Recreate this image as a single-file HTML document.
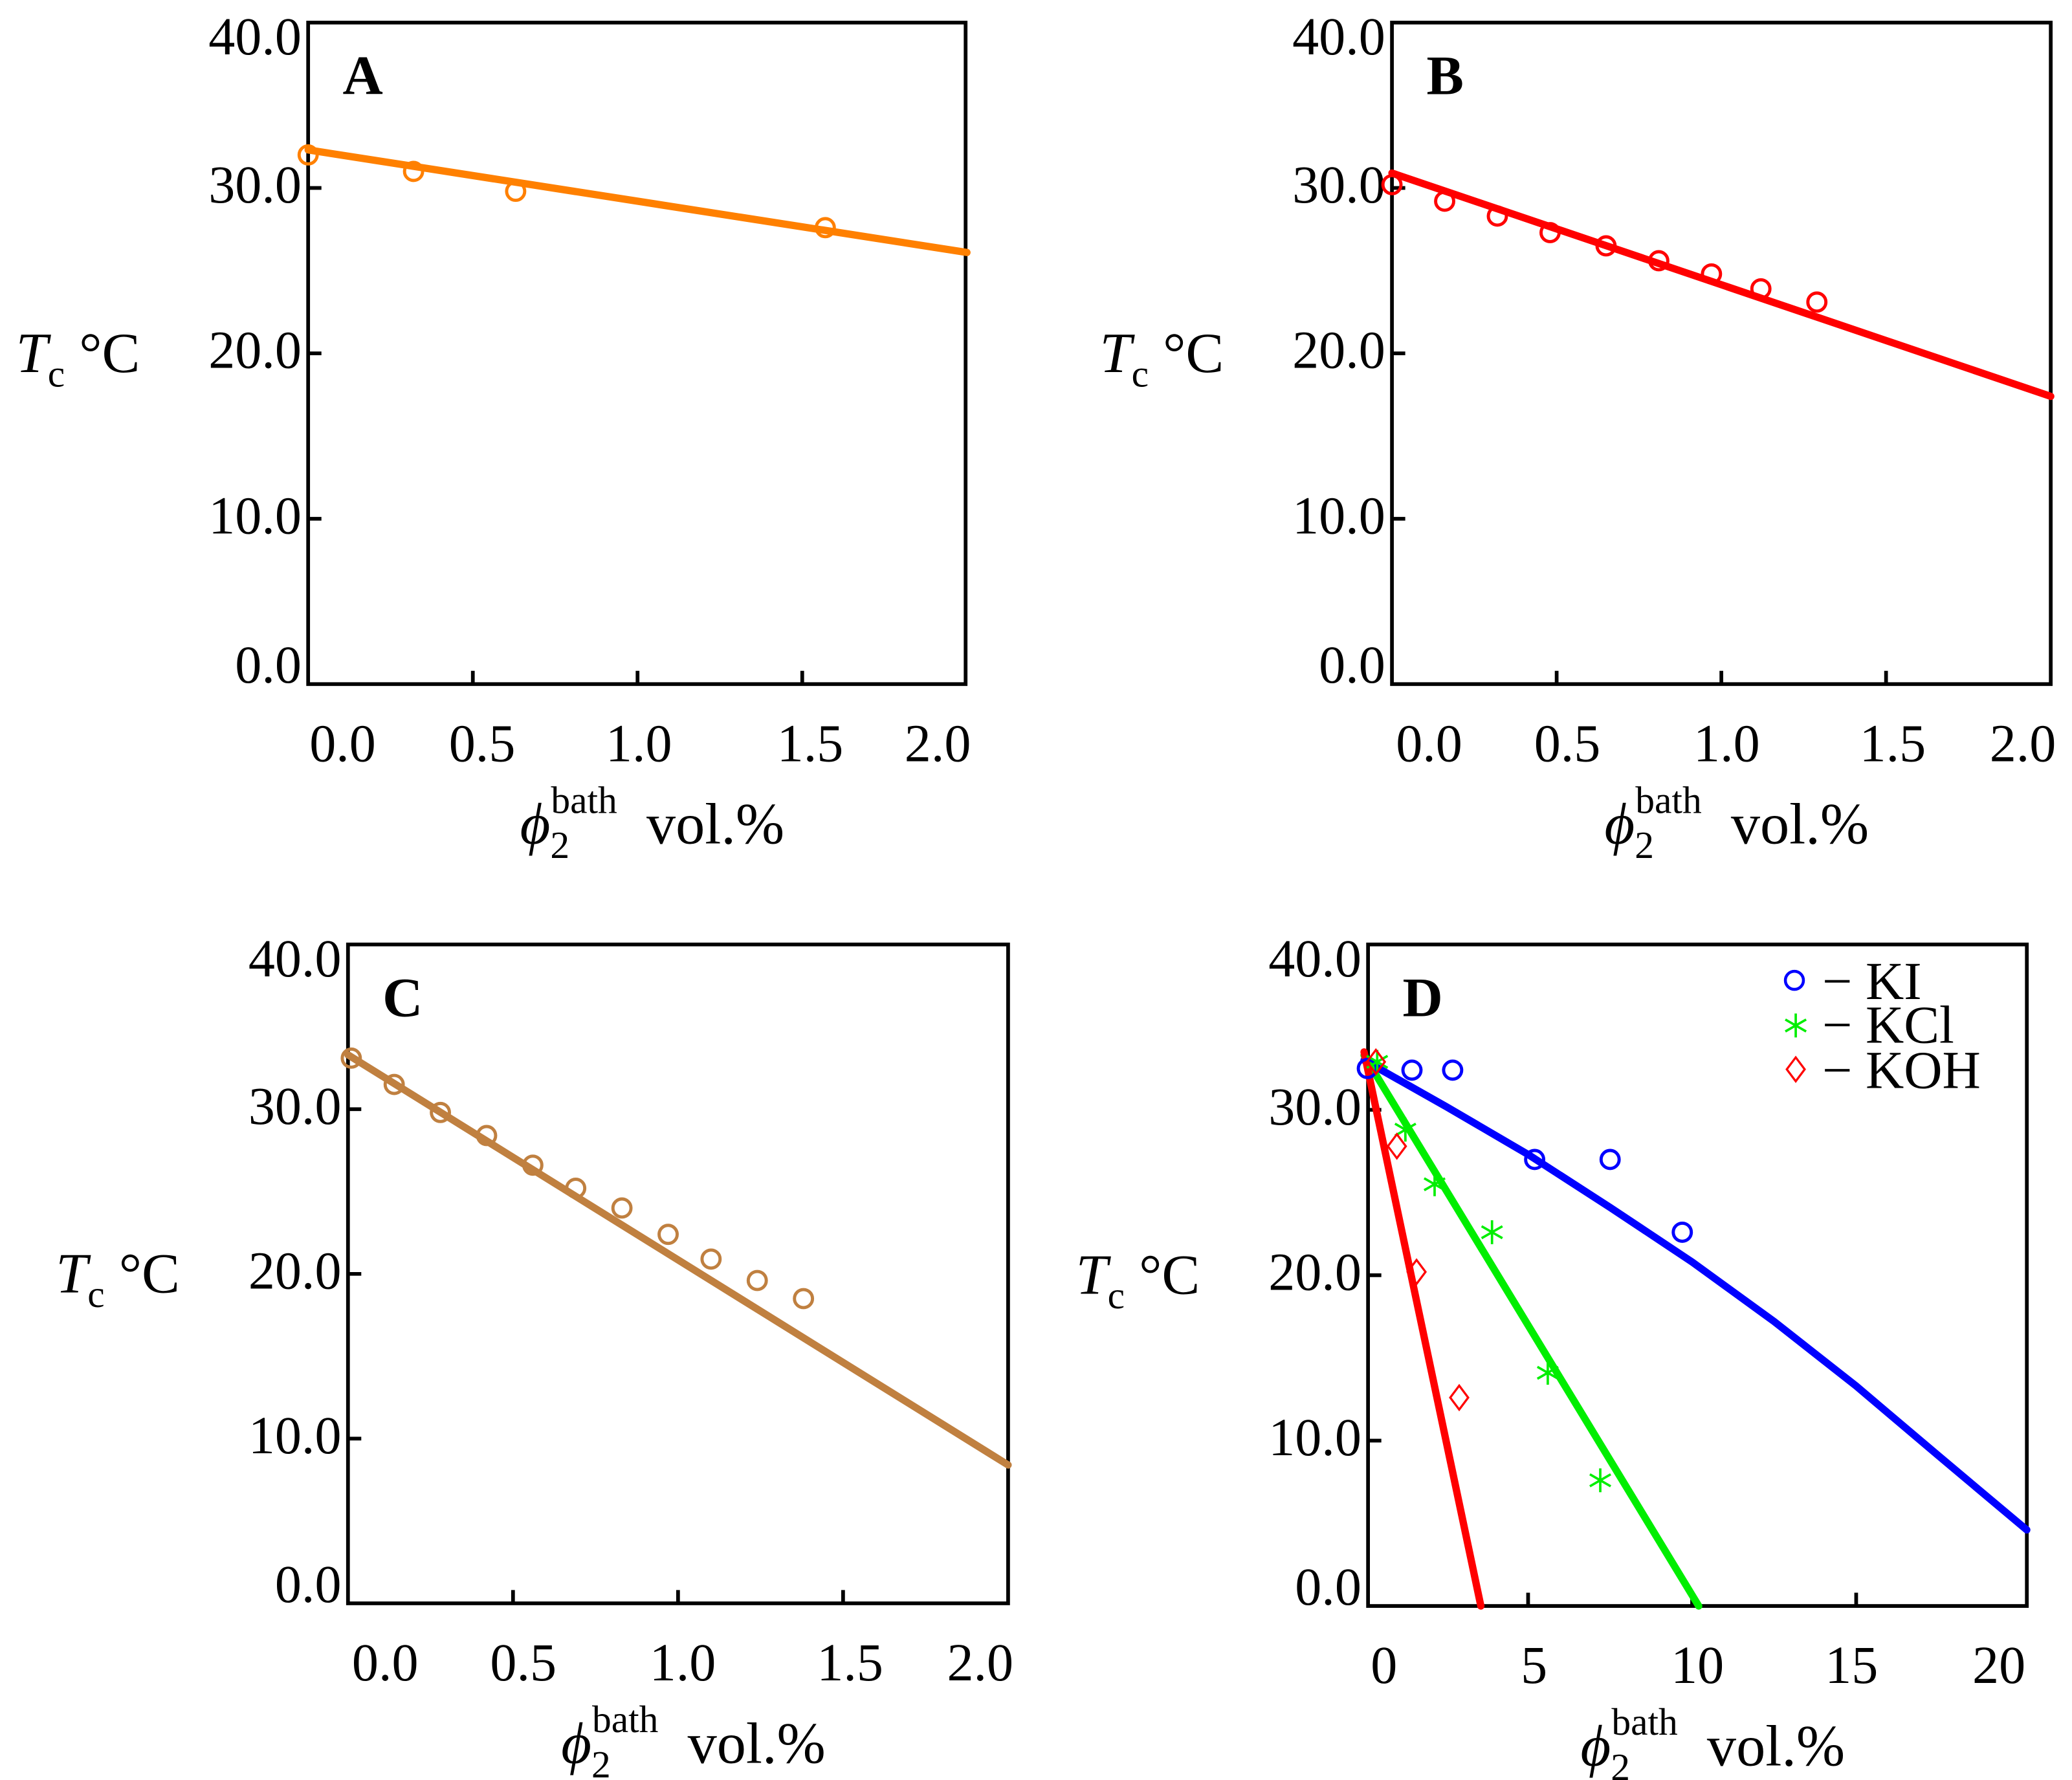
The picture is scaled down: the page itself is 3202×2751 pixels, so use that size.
<!DOCTYPE html>
<html><head><meta charset="utf-8"><style>
html,body{margin:0;padding:0;background:#fff;}
svg{display:block;}
text{font-family:"Liberation Serif","DejaVu Serif",serif;fill:#000;}
</style></head><body>
<svg id="fig" width="3202" height="2751" viewBox="0 0 1560 1340" preserveAspectRatio="none" xmlns="http://www.w3.org/2000/svg"></svg>
<script>
// Panel A data
const aX = [0, 0.32, 0.63, 1.57];
const aY = [32.0, 31.0, 29.8, 27.6];
const aFitX = [0, 2.0];
const aFitY = [32.3, 26.1];
// Panel B data
const bX = [0, 0.16, 0.32, 0.48, 0.65, 0.81, 0.97, 1.12, 1.29];
const bY = [30.2, 29.2, 28.3, 27.3, 26.5, 25.6, 24.8, 23.9, 23.1];
const bFitX = [0, 2.0];
const bFitY = [30.9, 17.4];
// Panel C data
const cX = [0.01, 0.14, 0.28, 0.42, 0.56, 0.69, 0.83, 0.97, 1.10, 1.24, 1.38];
const cY = [33.1, 31.5, 29.8, 28.4, 26.6, 25.2, 24.0, 22.4, 20.9, 19.6, 18.5];
const cFitX = [0, 2.0];
const cFitY = [33.3, 8.4];
// Panel D data
const kiX = [0.1, 1.46, 2.7, 5.2, 7.5, 9.7];
const kiY = [32.5, 32.4, 32.4, 27.0, 27.0, 22.6];
const kiFitX = [0, 2.5, 5, 7.5, 10, 12.5, 15, 17.5, 20.2];
const kiFitY = [33.0, 30.2, 27.3, 24.1, 20.8, 17.2, 13.3, 9.1, 4.6];
const kclX = [0.4, 1.26, 2.15, 3.9, 5.6, 7.2];
const kclY = [32.9, 28.8, 25.5, 22.6, 14.1, 7.6];
const kclFitX = [0, 10.2];
const kclFitY = [33.3, 0];
const kohX = [0.36, 1.0, 1.6, 2.9];
const kohY = [32.9, 27.8, 20.2, 12.6];
const kohFitX = [0, 3.56];
const kohFitY = [33.5, 0];
const yTicks = [0, 10, 20, 30, 40];
const yTickLabels = ["0.0", "10.0", "20.0", "30.0", "40.0"];
const xTicksABC = [0, 0.5, 1.0, 1.5, 2.0];
const xTickLabelsABC = ["0.0", "0.5", "1.0", "1.5", "2.0"];
const xTicksD = [0, 5, 10, 15, 20];
const xTickLabelsD = ["0", "5", "10", "15", "20"];

const NS = "http://www.w3.org/2000/svg";
const svg = document.getElementById("fig");
function mk(tag, attrs, parent) {
  const e = document.createElementNS(NS, tag);
  for (const k in attrs) e.setAttribute(k, attrs[k]);
  (parent || svg).appendChild(e);
  return e;
}
function panel(cfg) {
  const g = mk("g", {});
  
  
  const sx = v => cfg.x0 + (v - cfg.xmin) * cfg.xs;
  const sy = v => cfg.bottom - v * (cfg.bottom - cfg.top) / 40;
  cfg.sx = sx; cfg.sy = sy; cfg.g = g;
  const fr = mk("rect", {x: cfg.left, y: cfg.top, width: cfg.right - cfg.left, height: cfg.bottom - cfg.top, fill: "none", stroke: "#000", "stroke-width": 2.8}, g);
  
  
  yTicks.forEach((t, i) => {
    const y = sy(t);
    if (t > 0 && t < 40) {
      const tk = mk("line", {x1: cfg.left, x2: cfg.left + 10, y1: y, y2: y, stroke: "#000", "stroke-width": 2.8}, g);
      
      
    }
    const ly = t === 0 ? y - 1 : (t === 40 ? y + 24 : y + 11);
    const tx = mk("text", {x: cfg.left - 5, y: ly, "text-anchor": "end", "font-size": 40}, g);
    tx.textContent = yTickLabels[i];
    
    
  });
  cfg.xt.forEach((t, i) => {
    const x = sx(t);
    if (x > cfg.left + 5 && x < cfg.right - 5) {
      const tk = mk("line", {x1: x, x2: x, y1: cfg.bottom, y2: cfg.bottom - 10, stroke: "#000", "stroke-width": 2.8}, g);
      
      
    }
    const tx = mk("text", {x: cfg.labX[i], y: cfg.bottom + 58, "text-anchor": "middle", "font-size": 40}, g);
    tx.textContent = cfg.xl[i];
    
    
  });
  const yl = mk("text", {x: cfg.left - 220, y: (cfg.top + cfg.bottom) / 2 + 14, "font-size": 43}, g);
  
  
  yl.innerHTML = '<tspan font-style="italic">T</tspan><tspan font-size="29" dy="11">c</tspan><tspan dy="-11"> °C</tspan>';
  const xl = mk("text", {x: (cfg.left + cfg.right) / 2 - 88, y: cfg.bottom + 120, "font-size": 44}, g);
  
  
  xl.innerHTML = '<tspan font-style="italic">ϕ</tspan><tspan font-size="29" dy="11">2</tspan><tspan font-size="29" dx="-14" dy="-34">bath</tspan><tspan dx="22" dy="23">vol.%</tspan>';
  const pl = mk("text", {x: cfg.left + 26, y: cfg.top + 54, "font-size": 42, "font-weight": "bold"}, g);
  pl.textContent = cfg.id;
  
  
  return cfg;
}
function fit(cfg, xs, ys, color, name) {
  const pts = xs.map((x, i) => cfg.sx(x) + "," + cfg.sy(ys[i])).join(" ");
  const p = mk("polyline", {points: pts, fill: "none", stroke: color, "stroke-width": 5.5, "stroke-linecap": "round", "stroke-linejoin": "round"}, cfg.g);
  
  
}
function circles(cfg, xs, ys, color, name) {
  xs.forEach((x, i) => {
    const c = mk("circle", {cx: cfg.sx(x), cy: cfg.sy(ys[i]), r: 6.8, fill: "none", stroke: color, "stroke-width": 2.4}, cfg.g);
    
    
  });
}
function star(g, x, y, color, s) {
  return mk("path", {d: `M${x},${y - s}V${y + s}M${x - s * 0.87},${y - s / 2}L${x + s * 0.87},${y + s / 2}M${x - s * 0.87},${y + s / 2}L${x + s * 0.87},${y - s / 2}`, stroke: color, "stroke-width": 1.8, fill: "none"}, g);
}
function diamond(g, x, y, color, s) {
  return mk("path", {d: `M${x},${y - s}L${x + s * 0.75},${y}L${x},${y + s}L${x - s * 0.75},${y}Z`, stroke: color, "stroke-width": 1.6, fill: "none"}, g);
}

const A = panel({id: "A", left: 232, right: 727, top: 17, bottom: 515, x0: 232, xmin: 0, xs: 248, xt: xTicksABC, xl: xTickLabelsABC, labX: [258, 363, 481, 610, 706]});
fit(A, aFitX, aFitY, "#ff8000", "fit-line-a");
circles(A, aX, aY, "#ff8000", "data-point-a");

const B = panel({id: "B", left: 1048, right: 1544, top: 17, bottom: 515, x0: 1048, xmin: 0, xs: 248, xt: xTicksABC, xl: xTickLabelsABC, labX: [1076, 1180, 1300, 1425, 1523]});
fit(B, bFitX, bFitY, "#ff0000", "fit-line-b");
circles(B, bX, bY, "#ff0000", "data-point-b");

const C = panel({id: "C", left: 262, right: 759, top: 711, bottom: 1207, x0: 262, xmin: 0, xs: 248.5, xt: xTicksABC, xl: xTickLabelsABC, labX: [290, 394, 514, 640, 738]});
fit(C, cFitX, cFitY, "#c08040", "fit-line-c");
circles(C, cX, cY, "#c08040", "data-point-c");

const D = panel({id: "D", left: 1030, right: 1526, top: 711, bottom: 1209, x0: 1027, xmin: 0, xs: 24.7, xt: xTicksD, xl: xTickLabelsD, labX: [1042, 1155, 1278, 1394, 1505]});
fit(D, kiFitX, kiFitY, "#0000ff", "fit-line-ki");
fit(D, kclFitX, kclFitY, "#00ee00", "fit-line-kcl");
fit(D, kohFitX, kohFitY, "#ff0000", "fit-line-koh");
circles(D, kiX, kiY, "#0000ff", "data-point-ki");
kclX.forEach((x, i) => {
  const s = star(D.g, D.sx(x), D.sy(kclY[i]), "#00ee00", 9);
  
  
});
kohX.forEach((x, i) => {
  const d = diamond(D.g, D.sx(x), D.sy(kohY[i]), "#ff0000", 9);
  
  
});
const leg = mk("g", {});


const lc = mk("circle", {cx: 1351, cy: 738, r: 6.8, fill: "none", stroke: "#0000ff", "stroke-width": 2.2}, leg);


const ls = star(leg, 1352, 772, "#00ee00", 9);


const ld = diamond(leg, 1352, 805, "#ff0000", 9);


[["− KI", 752, "legend-entry-ki"], ["− KCl", 785, "legend-entry-kcl"], ["− KOH", 819, "legend-entry-koh"]].forEach(e => {
  const t = mk("text", {x: 1372, y: e[1], "font-size": 40}, leg);
  t.textContent = e[0];
  
  
});
</script>
</body></html>
